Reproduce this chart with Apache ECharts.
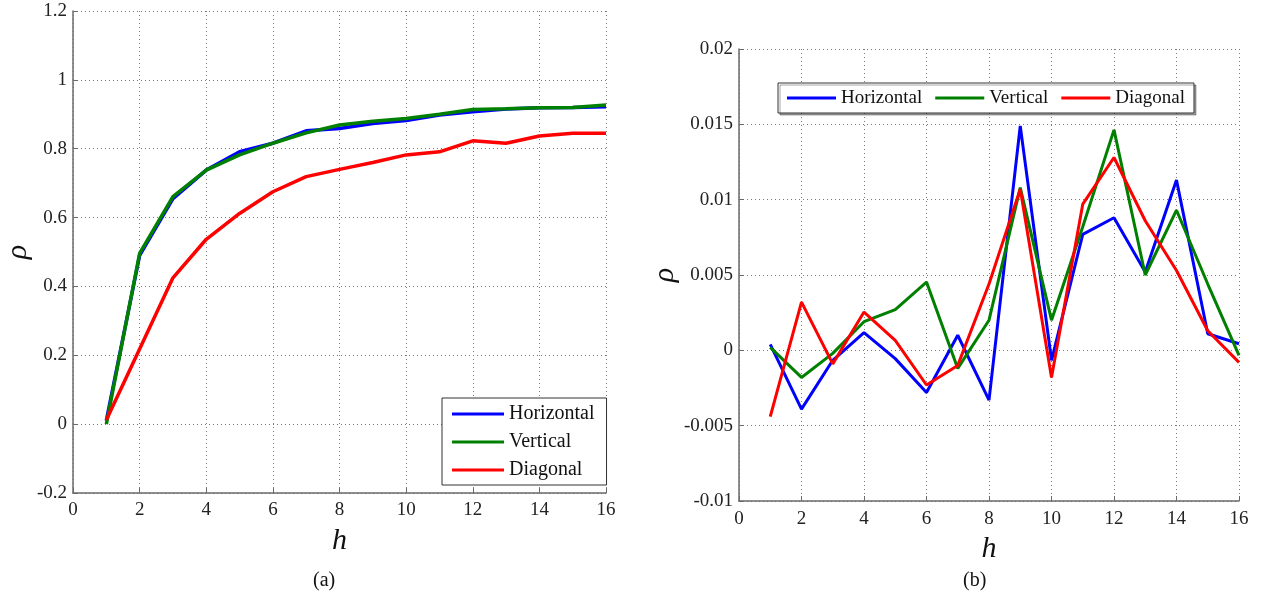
<!DOCTYPE html>
<html>
<head>
<meta charset="utf-8">
<script src="https://cdn.jsdelivr.net/npm/echarts@6/dist/echarts.min.js"></script>
<style>
html,body{margin:0;padding:0;background:#fff;}
#main{width:1264px;height:601px;}
</style>
</head>
<body>
<div id="main"></div>
<script>
// ---- data ----
const hValues = [1,2,3,4,5,6,7,8,9,10,11,12,13,14,15,16];
const seriesNames = ['Horizontal','Vertical','Diagonal'];
// panel (a): correlation rho vs h
const aHorizontal = [0.01,0.49,0.655,0.738,0.791,0.816,0.852,0.859,0.873,0.882,0.898,0.907,0.915,0.919,0.92,0.922];
const aVertical   = [0.0,0.496,0.661,0.738,0.782,0.816,0.846,0.869,0.880,0.888,0.900,0.914,0.916,0.919,0.920,0.927];
const aDiagonal   = [0.012,0.218,0.425,0.537,0.612,0.675,0.719,0.740,0.760,0.782,0.791,0.823,0.816,0.837,0.845,0.845];
// panel (b)
const bHorizontal = [0.0004,-0.0039,-0.00066,0.00117,-0.00055,-0.0028,0.001,-0.0033,0.0149,-0.00066,0.0077,0.0088,0.0052,0.0113,0.0011,0.00044];
const bVertical   = [0.0002,-0.0018,-0.0002,0.0019,0.0027,0.00453,-0.0012,0.002,0.0108,0.002,0.0082,0.01463,0.005,0.0093,0.0044,-0.00033];
const bDiagonal   = [-0.0044,0.0032,-0.0009,0.00254,0.00066,-0.0023,-0.001,0.0044,0.0107,-0.0018,0.0097,0.0128,0.0086,0.0053,0.0013,-0.0008];
// axis settings
const xTicks = {min:0, max:16, interval:2};
const aYTicks = {min:-0.2, max:1.2, interval:0.2};
const bYTicks = {min:-0.01, max:0.02, interval:0.005};

const colors = ['#0000ff','#008000','#ff0000'];
const FONT = '"Liberation Serif", "DejaVu Serif", serif';

function pairs(xs, ys){ return xs.map((x,i)=>[x, ys[i]]); }
function fmt(v){ return String(parseFloat(v.toFixed(4))); }

const gridLine = {show:true, lineStyle:{color:'#7a7a7a', type:[1,3], width:1}};
const axisLine = {show:true, onZero:false, lineStyle:{color:'#6a6a6a', width:1.5}};
const axisTick = {show:true, inside:true, length:5, lineStyle:{color:'#6a6a6a'}};
const labelStyle = {color:'#222', fontFamily:FONT, fontSize:19};
const nameStyle = {color:'#111', fontFamily:FONT, fontSize:30, fontStyle:'italic'};

function xAxis(gi, gap, margin){
  return {type:'value', gridIndex:gi, min:xTicks.min, max:xTicks.max, interval:xTicks.interval,
    name:'h', nameLocation:'middle', nameGap:gap, nameTextStyle:nameStyle,
    axisLine, axisTick, splitLine:gridLine,
    axisLabel:Object.assign({margin:margin, formatter:fmt}, labelStyle)};
}
function yAxis(gi, t, gap){
  return {type:'value', gridIndex:gi, min:t.min, max:t.max, interval:t.interval,
    name:'ρ', nameLocation:'middle', nameGap:gap, nameTextStyle:nameStyle,
    axisLine, axisTick, splitLine:gridLine,
    axisLabel:Object.assign({margin:6, formatter:fmt}, labelStyle)};
}
function line(name, gi, data, ci, w){
  return {type:'line', name, xAxisIndex:gi, yAxisIndex:gi, data:pairs(hValues, data),
    symbol:'none', lineStyle:{color:colors[ci], width:w}, itemStyle:{color:colors[ci]},
    animation:false, z: 2};
}

const chart = echarts.init(document.getElementById('main'), null, {renderer:'canvas'});
chart.setOption({
  animation:false,
  backgroundColor:'#fff',
  grid:[
    {left:73, right:658, top:11, bottom:108},
    {left:739, right:25, top:49, bottom:100}
  ],
  xAxis:[xAxis(0, 33, 8), xAxis(1, 28, 9)],
  yAxis:[yAxis(0, aYTicks, 36), yAxis(1, bYTicks, 55)],
  legend:[
    {data:seriesNames.map(n=>n), orient:'vertical', left:442, top:398,
     icon:'rect', itemWidth:52, itemHeight:3, itemGap:8, padding:[6,12,5,10],
     borderColor:'#333', borderWidth:1, backgroundColor:'#fff',
     textStyle:{fontFamily:FONT, fontSize:20, color:'#111', lineHeight:20},
     selectedMode:false},
    {data:seriesNames.map(n=>n), orient:'horizontal', left:778, top:83,
     icon:'rect', itemWidth:49, itemHeight:3, itemGap:13, padding:[5,9,5,9],
     borderColor:'#333', borderWidth:1, backgroundColor:'#fff',
     shadowColor:'rgba(0,0,0,0.35)', shadowOffsetX:2, shadowOffsetY:2, shadowBlur:0,
     textStyle:{fontFamily:FONT, fontSize:19, color:'#111', lineHeight:20},
     selectedMode:false}
  ],
  series:[
    line('Horizontal',0,aHorizontal,0,3.5),
    line('Vertical',0,aVertical,1,3.5),
    line('Diagonal',0,aDiagonal,2,3.5),
    line('Horizontal',1,bHorizontal,0,3),
    line('Vertical',1,bVertical,1,3),
    line('Diagonal',1,bDiagonal,2,3)
  ],
  graphic:[
    {type:'text', left:313, top:571, style:{text:'(a)', fontFamily:FONT, fontSize:20, fill:'#111'}},
    {type:'text', left:963, top:571, style:{text:'(b)', fontFamily:FONT, fontSize:20, fill:'#111'}}
  ]
});
</script>
</body>
</html>
